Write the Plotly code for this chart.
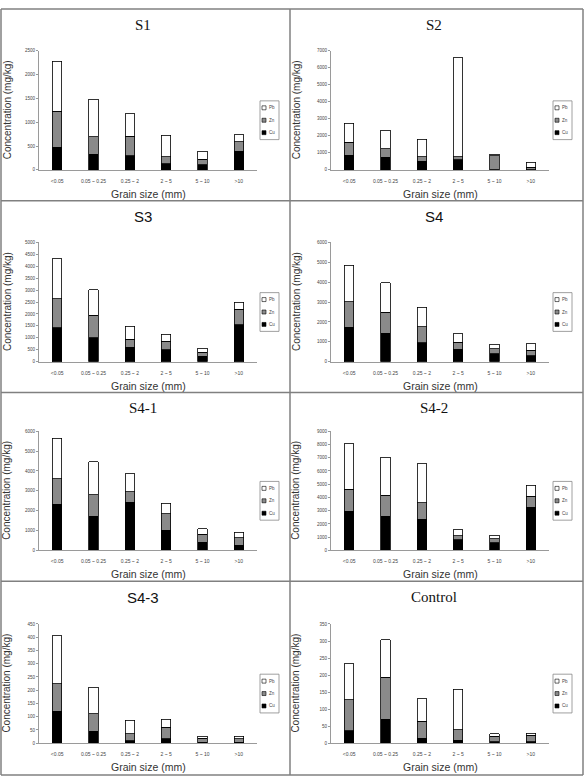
import plotly.graph_objects as go

# ---------------- data ----------------
categories = ["<0.05", "0.05 ~ 0.25", "0.25 ~ 2", "2 ~ 5", "5 ~ 10", ">10"]
series_names = ["Cu", "Zn", "Pb"]

s1_cu = [480, 325, 300, 125, 105, 390]
s1_zn = [750, 370, 405, 150, 115, 200]
s1_pb = [1050, 790, 475, 450, 170, 145]

s2_cu = [850, 740, 500, 600, 20, 20]
s2_zn = [760, 500, 280, 175, 810, 130]
s2_pb = [1140, 1090, 1025, 5820, 80, 300]

s3_cu = [1420, 1000, 600, 500, 235, 1555]
s3_zn = [1220, 945, 345, 360, 155, 640]
s3_pb = [1670, 1070, 540, 290, 165, 305]

s4_cu = [1740, 1440, 960, 630, 400, 300]
s4_zn = [1275, 1045, 800, 350, 245, 280]
s4_pb = [1840, 1475, 975, 415, 235, 330]

s41_cu = [2320, 1715, 2415, 1015, 415, 250]
s41_zn = [1300, 1100, 535, 835, 400, 385]
s41_pb = [2015, 1650, 915, 535, 285, 285]

s42_cu = [2950, 2575, 2350, 825, 600, 3250]
s42_zn = [1675, 1575, 1250, 300, 275, 825]
s42_pb = [3425, 2900, 2950, 450, 275, 850]

s43_cu = [121, 45, 10, 16, 4, 4]
s43_zn = [103, 66, 26, 44, 15, 12]
s43_pb = [181, 100, 50, 30, 8, 11]

ctrl_cu = [36, 70, 14, 9, 4, 4]
ctrl_zn = [91, 124, 51, 31, 16, 19]
ctrl_pb = [107, 110, 65, 118, 8, 7]

panel_titles = ["S1", "S2", "S3", "S4", "S4-1", "S4-2", "S4-3", "Control"]
panel_data = [
    (s1_cu, s1_zn, s1_pb), (s2_cu, s2_zn, s2_pb),
    (s3_cu, s3_zn, s3_pb), (s4_cu, s4_zn, s4_pb),
    (s41_cu, s41_zn, s41_pb), (s42_cu, s42_zn, s42_pb),
    (s43_cu, s43_zn, s43_pb), (ctrl_cu, ctrl_zn, ctrl_pb),
]
y_max = [2500, 7000, 5000, 6000, 6000, 9000, 450, 350]
y_step = [500, 1000, 500, 1000, 1000, 1000, 50, 50]

# ---------------- styles / layout ----------------
W, H = 585, 782
SERIF = "Liberation Serif, DejaVu Serif, serif"
SANS = "Liberation Sans, Arial, sans-serif"
title_fonts = [SERIF, SERIF, SANS, SANS, SERIF, SERIF, SANS, SERIF]
colors = {"Cu": "#000000", "Zn": "#8a8a8a", "Pb": "#ffffff"}

panel_top = [7, 200, 393, 583]
panel_bottom = 778
plot_top = [49, 242, 432, 626]
plot_bot = [169, 362, 552, 746]
plot_left = [39, 331]
plot_right = [257, 549]
panel_left = [1, 290]
panel_right = [290, 583]
leg_left = [260, 553]
leg_w = 19
leg_h = 39


def px(x):
    return x / W


def py(y):
    return 1 - y / H


fig = go.Figure()
layout = dict(
    width=W, height=H,
    margin=dict(l=0, r=0, t=0, b=0),
    paper_bgcolor="white", plot_bgcolor="white",
    barmode="stack", bargap=0.74,
    showlegend=False,
)
shapes = []
annotations = []

for i, title in enumerate(panel_titles):
    r, c = divmod(i, 2)
    suffix = "" if i == 0 else str(i + 1)
    xa, ya = "x" + suffix, "y" + suffix
    cu, zn, pb = panel_data[i]
    for name, vals in zip(series_names, (cu, zn, pb)):
        fig.add_trace(go.Bar(
            x=categories, y=vals, name=name,
            marker=dict(color=colors[name], line=dict(color="#000000", width=0.8)),
            xaxis=xa, yaxis=ya,
        ))
    layout["xaxis" + suffix] = dict(
        domain=[px(plot_left[c]), px(plot_right[c])], anchor=ya,
        type="category", range=[-0.5, 5.5],
        showline=True, linecolor="#9a9a9a", linewidth=1,
        ticks="", showgrid=False, zeroline=False, tickangle=0,
        tickfont=dict(size=5, color="#444", family=SANS),
        ticklabelstandoff=6,
    )
    layout["yaxis" + suffix] = dict(
        domain=[py(plot_bot[r]), py(plot_top[r])], anchor=xa,
        range=[0, y_max[i]], dtick=y_step[i], tick0=0,
        showline=True, linecolor="#9a9a9a", linewidth=1,
        ticks="outside", ticklen=2, tickcolor="#9a9a9a",
        showgrid=False, zeroline=False,
        tickfont=dict(size=4.5, color="#444", family=SANS),
    )
    cx = (panel_left[c] + panel_right[c]) / 2
    # title
    annotations.append(dict(
        x=px(cx - 3), y=py(panel_top[r] + 16), xref="paper", yref="paper",
        text=title, showarrow=False, xanchor="center", yanchor="middle",
        font=dict(size=15, family=title_fonts[i], color="#111"),
    ))
    # y title
    annotations.append(dict(
        x=px(panel_left[c] + 6), y=py((plot_top[r] + plot_bot[r]) / 2),
        xref="paper", yref="paper", text="Concentration (mg/kg)",
        textangle=-90, showarrow=False, xanchor="center", yanchor="middle",
        font=dict(size=10, family=SANS, color="#333"),
    ))
    # x title
    annotations.append(dict(
        x=px((plot_left[c] + plot_right[c]) / 2), y=py(plot_bot[r] + 24),
        xref="paper", yref="paper", text="Grain size (mm)",
        showarrow=False, xanchor="center", yanchor="middle",
        font=dict(size=10.5, family=SANS, color="#333"),
    ))
    # legend box
    lm = (plot_top[r] + plot_bot[r]) / 2 + 10
    lt = lm - leg_h / 2
    lx = leg_left[c]
    shapes.append(dict(type="rect", xref="paper", yref="paper",
                       x0=px(lx), x1=px(lx + leg_w), y0=py(lt), y1=py(lt + leg_h),
                       line=dict(color="#888", width=0.8), fillcolor="white"))
    for k, name in enumerate(["Pb", "Zn", "Cu"]):
        iy = lt + 7 + k * 12.5
        shapes.append(dict(type="rect", xref="paper", yref="paper",
                           x0=px(lx + 2), x1=px(lx + 6), y0=py(iy - 2), y1=py(iy + 2),
                           line=dict(color="#000", width=0.6), fillcolor=colors[name]))
        annotations.append(dict(
            x=px(lx + 7), y=py(iy), xref="paper", yref="paper", text=name,
            showarrow=False, xanchor="left", yanchor="middle",
            font=dict(size=4.5, family=SANS, color="#444"),
        ))

# panel borders
border = dict(color="#808080", width=1.5)
for yb in panel_top + [panel_bottom]:
    shapes.append(dict(type="line", xref="paper", yref="paper",
                       x0=px(1), x1=px(583), y0=py(yb), y1=py(yb), line=border))
for xb in [1, 290, 583]:
    shapes.append(dict(type="line", xref="paper", yref="paper",
                       x0=px(xb), x1=px(xb), y0=py(panel_top[0]), y1=py(panel_bottom),
                       line=border))

layout["shapes"] = shapes
layout["annotations"] = annotations
fig.update_layout(**layout)
fig.write_html("out.html")
